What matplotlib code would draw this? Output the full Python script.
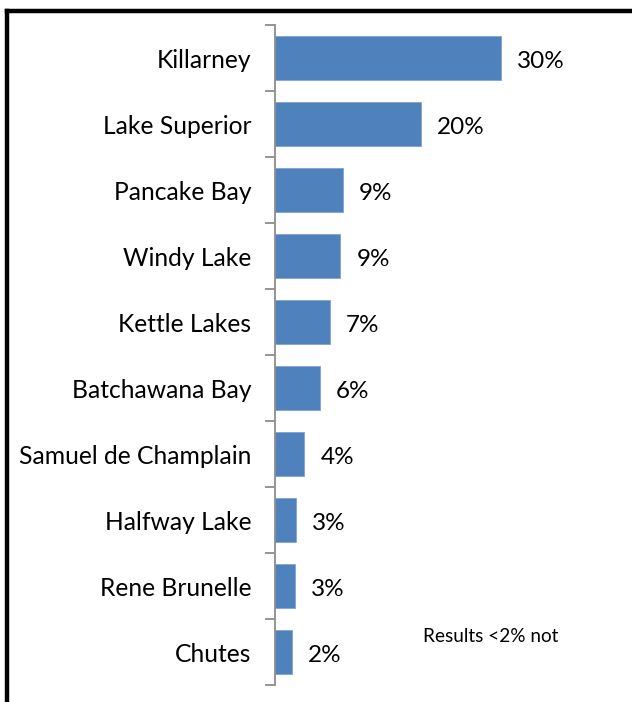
import matplotlib
matplotlib.use("Agg")
import matplotlib.pyplot as plt
from matplotlib.lines import Line2D

categories = ["Killarney", "Lake Superior", "Pancake Bay", "Windy Lake", "Kettle Lakes",
              "Batchawana Bay", "Samuel de Champlain", "Halfway Lake", "Rene Brunelle", "Chutes"]
values = [30.1, 19.5, 9.1, 8.7, 7.3, 6.0, 3.9, 2.8, 2.6, 2.3]
labels = ["30%", "20%", "9%", "9%", "7%", "6%", "4%", "3%", "3%", "2%"]
note = "Results <2% not"

plt.rcParams['font.family'] = ['Lato', 'DejaVu Sans']

W, H = 632, 702
fig = plt.figure(figsize=(W / 100, H / 100), dpi=100)
fig.patch.set_facecolor('white')

ax_left = 275 / W
ax_right = 575 / W
ax_top = 1 - 25 / H
ax_bot = 1 - 685 / H
ax = fig.add_axes([ax_left, ax_bot, ax_right - ax_left, ax_top - ax_bot])

n = len(categories)
ypos = list(range(n))
ax.barh(ypos, values, height=0.67, color='#4F81BD', edgecolor='#7FA3D0', linewidth=0.6)
ax.set_ylim(n - 0.5, -0.5)
ax.set_xlim(0, 40)

for y, v, lab in zip(ypos, values, labels):
    ax.annotate(lab, (v, y), xytext=(16, -1.5), textcoords='offset pixels',
                va='center_baseline', ha='left', fontsize=17.5, color='black')

ax.set_yticks(ypos)
ax.set_yticklabels(categories, fontsize=17.7)
ax.tick_params(axis='y', which='major', length=0, pad=17)
ax.set_yticks([i - 0.5 for i in range(n + 1)], minor=True)
ax.tick_params(axis='y', which='minor', length=7, width=1.3, color='#8C8C8C', direction='out')
ax.set_xticks([])
for s in ['top', 'right', 'bottom']:
    ax.spines[s].set_visible(False)
ax.spines['left'].set_color('#8C8C8C')
ax.spines['left'].set_linewidth(1.3)

fig.text(423 / W, 1 - 636 / H, note, fontsize=13.7, va='center', ha='left', color='black')

# Outer frame (left and top edges visible)
fig.add_artist(Line2D([6.5 / W, 6.5 / W], [0, 1 - 11 / H], transform=fig.transFigure,
                      color='black', linewidth=3.2, solid_capstyle='projecting'))
fig.add_artist(Line2D([6.5 / W, 1.0], [1 - 11 / H, 1 - 11 / H], transform=fig.transFigure,
                      color='black', linewidth=3.2, solid_capstyle='projecting'))

fig.savefig("out.png", dpi=100)
